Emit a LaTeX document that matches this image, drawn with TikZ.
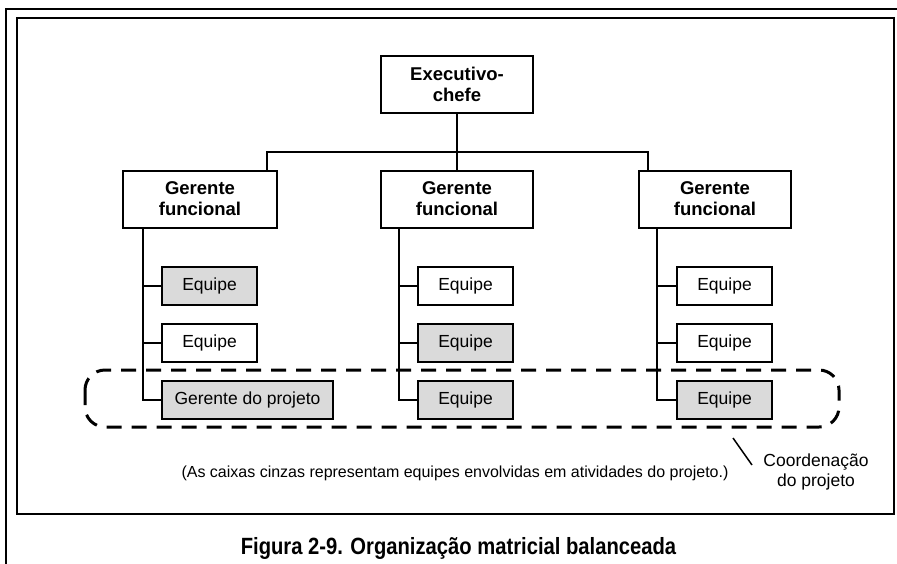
\documentclass[tikz,border=0pt]{standalone}
\usepackage{fontspec}
\setmainfont{Liberation Sans}
\usepackage{graphicx}
\definecolor{teamgrey}{RGB}{218,218,218}
\tikzset{
  box/.style={draw, line width=2pt, inner sep=0pt, align=center},
  headbox/.style={box, minimum width=152pt, minimum height=57pt,
    font=\fontsize{18.5}{21}\selectfont\bfseries},
  teambox/.style={box, minimum width=95pt, minimum height=38pt,
    font=\fontsize{17.5}{20}\selectfont},
  shaded/.style={fill=teamgrey},
  link/.style={line width=2pt},
  frame/.style={line width=2pt},
  coord/.style={line width=3pt, dash pattern=on 15pt off 10pt, rounded corners=20pt},
}
\begin{document}
\begin{tikzpicture}[x=1pt, y=-1pt]
\useasboundingbox (0,0) rectangle (897,563);
% page frame (outer) and figure frame (inner)
\draw[frame] (6,570) -- (6,9) -- (905,9);
\draw[frame] (17,18) rectangle (894,514);

% top of the hierarchy
\node[headbox] (exec) at (457,84.5) {Executivo-\\chefe};
\node[headbox, minimum width=154pt] (gf1) at (200,199) {Gerente\\funcional};
\node[headbox] (gf2) at (457,199) {Gerente\\funcional};
\node[headbox] (gf3) at (715,199) {Gerente\\funcional};

% teams under each functional manager
\node[teambox, shaded] (e11) at (209.5,285.5) {Equipe};
\node[teambox] (e12) at (209.5,342.5) {Equipe};
\node[teambox, shaded, minimum width=171pt] (gp) at (247.5,399.5) {Gerente do projeto};

\node[teambox] (e21) at (465.5,285.5) {Equipe};
\node[teambox, shaded] (e22) at (465.5,342.5) {Equipe};
\node[teambox, shaded] (e23) at (465.5,399.5) {Equipe};

\node[teambox] (e31) at (724.5,285.5) {Equipe};
\node[teambox] (e32) at (724.5,342.5) {Equipe};
\node[teambox, shaded] (e33) at (724.5,399.5) {Equipe};

% bus from the chief executive to the functional managers
\coordinate (busL) at (267,152);
\coordinate (busR) at (648,152);
\draw[link] (exec.south) -- (gf2.north);
\draw[link] (busL |- gf1.north) -- (busL) -- (busR) -- (busR |- gf3.north);

% trunks down to the teams
\coordinate (t1) at (143,0);
\coordinate (t2) at (399,0);
\coordinate (t3) at (657,0);
\draw[link] (t1 |- gf1.south) -- (t1 |- gp.west) -- (gp.west);
\draw[link] (t1 |- e11.west) -- (e11.west);
\draw[link] (t1 |- e12.west) -- (e12.west);
\draw[link] (t2 |- gf2.south) -- (t2 |- e23.west) -- (e23.west);
\draw[link] (t2 |- e21.west) -- (e21.west);
\draw[link] (t2 |- e22.west) -- (e22.west);
\draw[link] (t3 |- gf3.south) -- (t3 |- e33.west) -- (e33.west);
\draw[link] (t3 |- e31.west) -- (e31.west);
\draw[link] (t3 |- e32.west) -- (e32.west);

% project coordination outline
\draw[coord] (85,370) rectangle (839,427);

% notes
\node (note) at (455,473) {\fontsize{16}{19}\selectfont (As caixas cinzas representam equipes envolvidas em atividades do projeto.)};
\node[align=center, font=\fontsize{17.5}{20}\selectfont] (coordlbl) at (816,472) {Coordenação\\do projeto};
\coordinate (leadA) at (733,438);
\coordinate (leadB) at (752,465);
\draw[line width=1.5pt] (leadA) -- (leadB);

% caption
\node (caption) at (458.5,548.5) {\scalebox{0.86}[1]{\fontsize{23.5}{26}\selectfont\bfseries Figura 2-9. Organização matricial balanceada}};
\end{tikzpicture}
\end{document}
